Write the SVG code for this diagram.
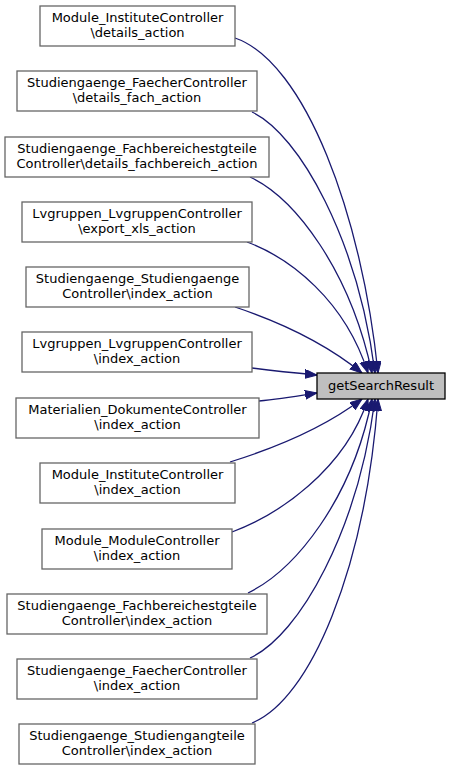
<svg xmlns="http://www.w3.org/2000/svg" width="451" height="771" viewBox="0 0 451 771">
<style>
.n rect{fill:#ffffff;stroke:#666666;stroke-width:1.3}
.t rect{fill:#bfbfbf;stroke:#000000;stroke-width:1.3}
text{font-family:"DejaVu Sans",sans-serif;font-size:13px;text-anchor:middle;fill:#000000}
.e path{fill:none;stroke:#191970;stroke-width:1.3}
</style>
<defs>
<marker id="ah" markerUnits="userSpaceOnUse" markerWidth="14" markerHeight="11" refX="12" refY="4.5" orient="auto">
<path d="M0,0 L12,4.5 L0,9 z" fill="#191970" stroke="#191970" stroke-width="1"/>
</marker>
</defs>
<g id="edges" class="e">
<path marker-end="url(#ah)" d="M235,38 C305,62 362,215 378,373"/>
<path marker-end="url(#ah)" d="M252,112 C300,135 358,240 375,373"/>
<path marker-end="url(#ah)" d="M250,177 C295,198 350,270 372,373"/>
<path marker-end="url(#ah)" d="M247,242 C290,258 345,300 368,373"/>
<path marker-end="url(#ah)" d="M235,307 C280,322 325,343 362,373"/>
<path marker-end="url(#ah)" d="M252,368 C275,371 295,373 317,375"/>
<path marker-end="url(#ah)" d="M259,401 C280,399 298,396 317,393"/>
<path marker-end="url(#ah)" d="M230,462 C275,448 325,427 362,399"/>
<path marker-end="url(#ah)" d="M232,532 C278,515 345,470 368,399"/>
<path marker-end="url(#ah)" d="M248,593 C295,570 352,500 372,399"/>
<path marker-end="url(#ah)" d="M250,658 C300,635 358,530 375,399"/>
<path marker-end="url(#ah)" d="M252,723 C310,700 365,570 378,399"/>
</g>
<g id="target" class="t">
<rect x="317" y="373" width="128" height="26"/>
<text x="381" y="390">getSearchResult</text>
</g>
<g id="n1" class="n">
<rect x="40" y="6" width="195" height="40"/>
<text x="137.5" y="22.3">Module_InstituteController</text>
<text x="137.5" y="36.8">\details_action</text>
</g>
<g id="n2" class="n">
<rect x="17" y="71" width="240" height="40"/>
<text x="137" y="87.3">Studiengaenge_FaecherController</text>
<text x="137" y="101.8">\details_fach_action</text>
</g>
<g id="n3" class="n">
<rect x="5" y="137" width="264" height="40"/>
<text x="137" y="153.3">Studiengaenge_Fachbereichestgteile</text>
<text x="137" y="167.8">Controller\details_fachbereich_action</text>
</g>
<g id="n4" class="n">
<rect x="22" y="202" width="230" height="40"/>
<text x="137" y="218.3">Lvgruppen_LvgruppenController</text>
<text x="137" y="232.8">\export_xls_action</text>
</g>
<g id="n5" class="n">
<rect x="26" y="267" width="223" height="40"/>
<text x="137.5" y="283.3">Studiengaenge_Studiengaenge</text>
<text x="137.5" y="297.8">Controller\index_action</text>
</g>
<g id="n6" class="n">
<rect x="22" y="332" width="230" height="40"/>
<text x="137" y="348.3">Lvgruppen_LvgruppenController</text>
<text x="137" y="362.8">\index_action</text>
</g>
<g id="n7" class="n">
<rect x="16" y="398" width="243" height="40"/>
<text x="137.5" y="414.3">Materialien_DokumenteController</text>
<text x="137.5" y="428.8">\index_action</text>
</g>
<g id="n8" class="n">
<rect x="40" y="463" width="195" height="40"/>
<text x="137.5" y="479.3">Module_InstituteController</text>
<text x="137.5" y="493.8">\index_action</text>
</g>
<g id="n9" class="n">
<rect x="42" y="529" width="190" height="40"/>
<text x="137" y="545.3">Module_ModuleController</text>
<text x="137" y="559.8">\index_action</text>
</g>
<g id="n10" class="n">
<rect x="7" y="594" width="260" height="40"/>
<text x="137" y="610.3">Studiengaenge_Fachbereichestgteile</text>
<text x="137" y="624.8">Controller\index_action</text>
</g>
<g id="n11" class="n">
<rect x="17" y="659" width="240" height="40"/>
<text x="137" y="675.3">Studiengaenge_FaecherController</text>
<text x="137" y="689.8">\index_action</text>
</g>
<g id="n12" class="n">
<rect x="19" y="724" width="236" height="40"/>
<text x="137" y="740.3">Studiengaenge_Studiengangteile</text>
<text x="137" y="754.8">Controller\index_action</text>
</g>
</svg>
